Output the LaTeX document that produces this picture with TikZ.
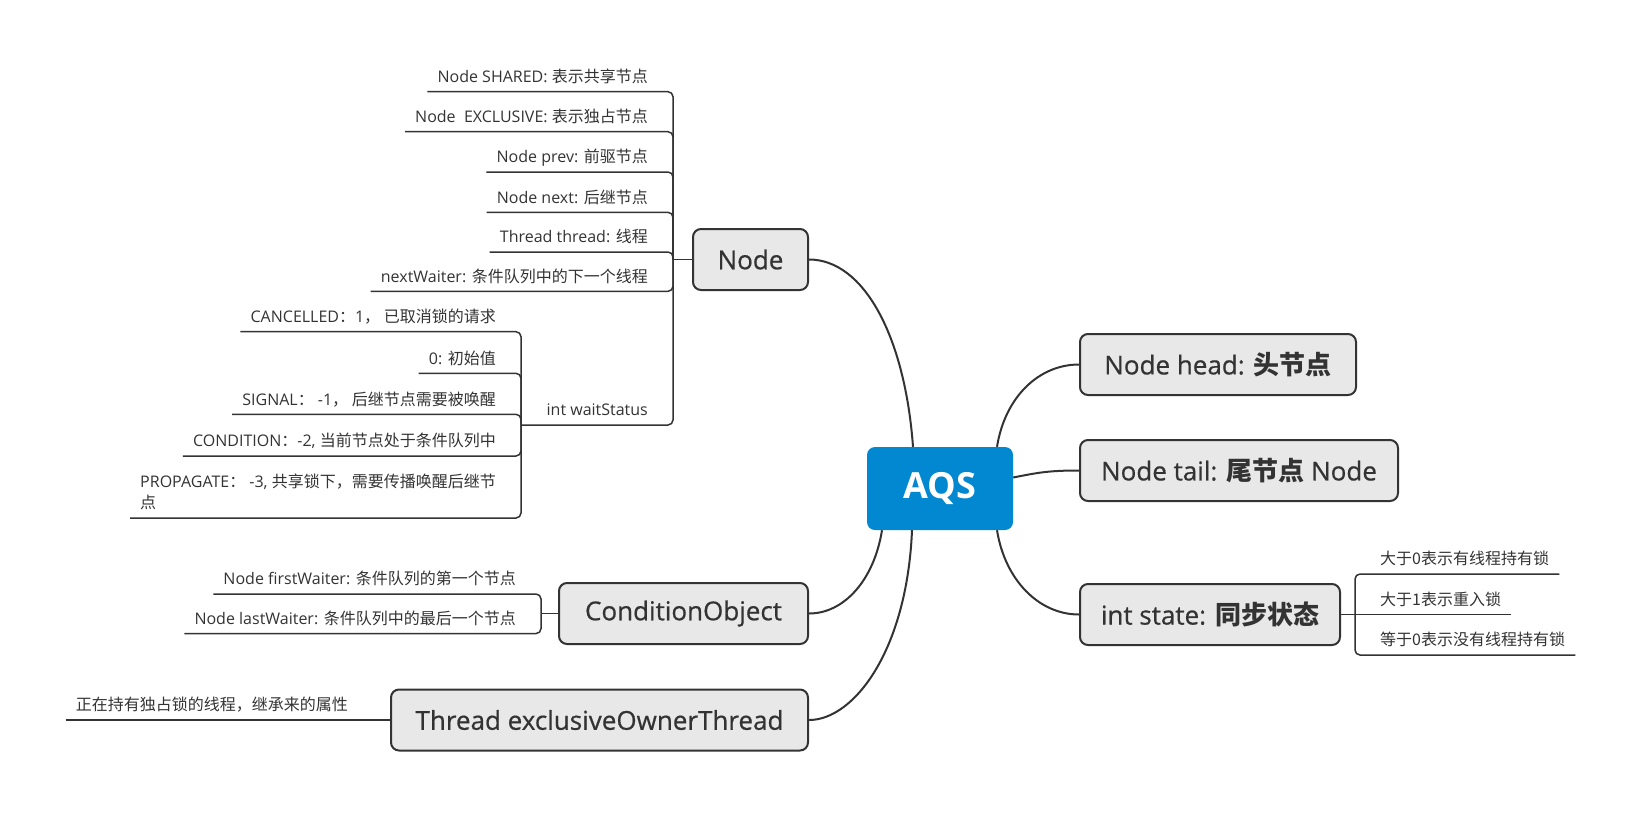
\documentclass[tikz,border=0pt]{standalone}
\usepackage{fontspec}
\setmainfont{Open Sans}
\newfontfamily\zhfont{Noto Sans CJK SC}
\newcommand{\zh}[1]{{\zhfont #1}}
\definecolor{aqsblue}{HTML}{0288D1}
\definecolor{ink}{HTML}{333333}
\definecolor{boxgray}{HTML}{E8E8E8}

\begin{document}
\begin{tikzpicture}[x=1pt,y=-1pt,
    topic/.style={draw=ink,line width=2pt,fill=boxgray,rounded corners=8pt,
        minimum height=61pt,text=ink,
        font=\fontsize{26}{30}\selectfont\addfontfeature{FakeBold=0.6}},
    leaf/.style={inner xsep=10pt,inner ysep=5pt,text depth=4pt,text=ink,
        font=\fontsize{16}{21}\selectfont},
    branch/.style={ink,line width=2pt},
    stem/.style={ink,line width=1.5pt,rounded corners=5pt}]
    \useasboundingbox (0,0) rectangle (1640,812);

    % centre
    \node[fill=aqsblue,rounded corners=8pt,minimum width=146pt,minimum height=83pt,
        text=white,font=\fontsize{36}{40}\selectfont\bfseries] (aqs) at (940,488.5) {AQS};

    % main topics
    \node[topic,minimum width=115pt] (nd) at (750.5,259.5) {Node};
    \node[topic,minimum width=249pt] (cond) at (683.5,613.5) {ConditionObject};
    \node[topic,minimum width=417pt] (owner) at (599.5,720) {Thread exclusiveOwnerThread};
    \node[topic,minimum width=276pt] (head) at (1218,364.5) {Node head: \textbf{\zh{头节点}}};
    \node[topic,minimum width=318pt] (tail) at (1239,470.5) {Node tail: \textbf{\zh{尾节点}} Node};
    \node[topic,minimum width=260pt] (state) at (1210,614.5) {int state: \textbf{\zh{同步状态}}};

    % Node fields
    \coordinate (ndj) at (673,259.5);
    \node[leaf,anchor=south east] (shared) at (658,91.7) {Node SHARED: \zh{表示共享节点}};
    \node[leaf,anchor=south east] (excl) at (658,131.7) {Node~~EXCLUSIVE: \zh{表示独占节点}};
    \node[leaf,anchor=south east] (prev) at (658,172) {Node prev: \zh{前驱节点}};
    \node[leaf,anchor=south east] (next) at (658,212.3) {Node next: \zh{后继节点}};
    \node[leaf,anchor=south east] (thr) at (658,252) {Thread thread: \zh{线程}};
    \node[leaf,anchor=south east] (waiter) at (658,291.3) {nextWaiter: \zh{条件队列中的下一个线程}};
    \node[leaf,anchor=south east] (ws) at (658,425) {int waitStatus};

    % waitStatus values
    \coordinate (wsj) at (521,425);
    \node[leaf,anchor=south east] (cancel) at (506,331.7) {CANCELLED\zh{：}1\zh{， 已取消锁的请求}};
    \node[leaf,anchor=south east] (init) at (506,373.3) {0: \zh{初始值}};
    \node[leaf,anchor=south east] (signal) at (506,414.3) {SIGNAL\zh{：} -1\zh{， 后继节点需要被唤醒}};
    \node[leaf,anchor=south east] (condition) at (506,456) {CONDITION\zh{：}-2, \zh{当前节点处于条件队列中}};
    \node[leaf,anchor=south east,align=left] (propagate) at (506,518) {PROPAGATE\zh{：} -3, \zh{共享锁下，需要传播唤醒后继节}\\\zh{点}};

    % ConditionObject fields
    \coordinate (condj) at (541,613.5);
    \node[leaf,anchor=south east] (first) at (526,594) {Node firstWaiter: \zh{条件队列的第一个节点}};
    \node[leaf,anchor=south east] (last) at (526,633.6) {Node lastWaiter: \zh{条件队列中的最后一个节点}};

    % owner thread
    \node[leaf,anchor=south east] (holder) at (358,720) {\zh{正在持有独占锁的线程，继承来的属性}};

    % state values
    \coordinate (statej) at (1355,614.5);
    \node[leaf,anchor=south west] (gt0) at (1370,574) {\zh{大于0表示有线程持有锁}};
    \node[leaf,anchor=south west] (gt1) at (1370,614.5) {\zh{大于1表示重入锁}};
    \node[leaf,anchor=south west] (eq0) at (1370,655) {\zh{等于0表示没有线程持有锁}};

    % branches from the centre
    \draw[branch] ([xshift=-27pt]aqs.north) .. controls +(-8,-110) and +(55,0) .. (nd.east);
    \draw[branch] ([xshift=57pt]aqs.north) .. controls +(8,-50) and +(-40,0) .. (head.west);
    \draw[branch] ([yshift=11pt]aqs.east) .. controls +(25,-5) and +(-30,0) .. (tail.west);
    \draw[branch] ([xshift=57pt]aqs.south) .. controls +(8,50) and +(-40,0) .. (state.west);
    \draw[branch] ([xshift=-58pt]aqs.south) .. controls +(-8,50) and +(35,0) .. (cond.east);
    \draw[branch] ([xshift=-28pt]aqs.south) .. controls +(-5,120) and +(45,0) .. (owner.east);

    % underlines
    \draw[stem] (shared.south west) -| (ndj);
    \draw[stem] (excl.south west) -| (ndj);
    \draw[stem] (prev.south west) -| (ndj);
    \draw[stem] (next.south west) -| (ndj);
    \draw[stem] (thr.south west) -| (ndj);
    \draw[stem] (waiter.south west) -| (ndj);
    \draw[stem] (wsj) -- (ws.south east) -| (ndj);
    \draw[stem] (ndj) -- (nd.west);

    \draw[stem] (cancel.south west) -| (wsj);
    \draw[stem] (init.south west) -| (wsj);
    \draw[stem] (signal.south west) -| (wsj);
    \draw[stem] (condition.south west) -| (wsj);
    \draw[stem] (propagate.south west) -| (wsj);

    \draw[stem] (first.south west) -| (condj);
    \draw[stem] (last.south west) -| (condj);
    \draw[stem] (condj) -- (cond.west);

    \draw[stem] (holder.south west) -- (owner.west);

    \draw[stem] (gt0.south east) -| (statej);
    \draw[stem] (eq0.south east) -| (statej);
    \draw[stem] (gt1.south east) -- (statej);
    \draw[stem] (state.east) -- (statej);
\end{tikzpicture}
\end{document}
